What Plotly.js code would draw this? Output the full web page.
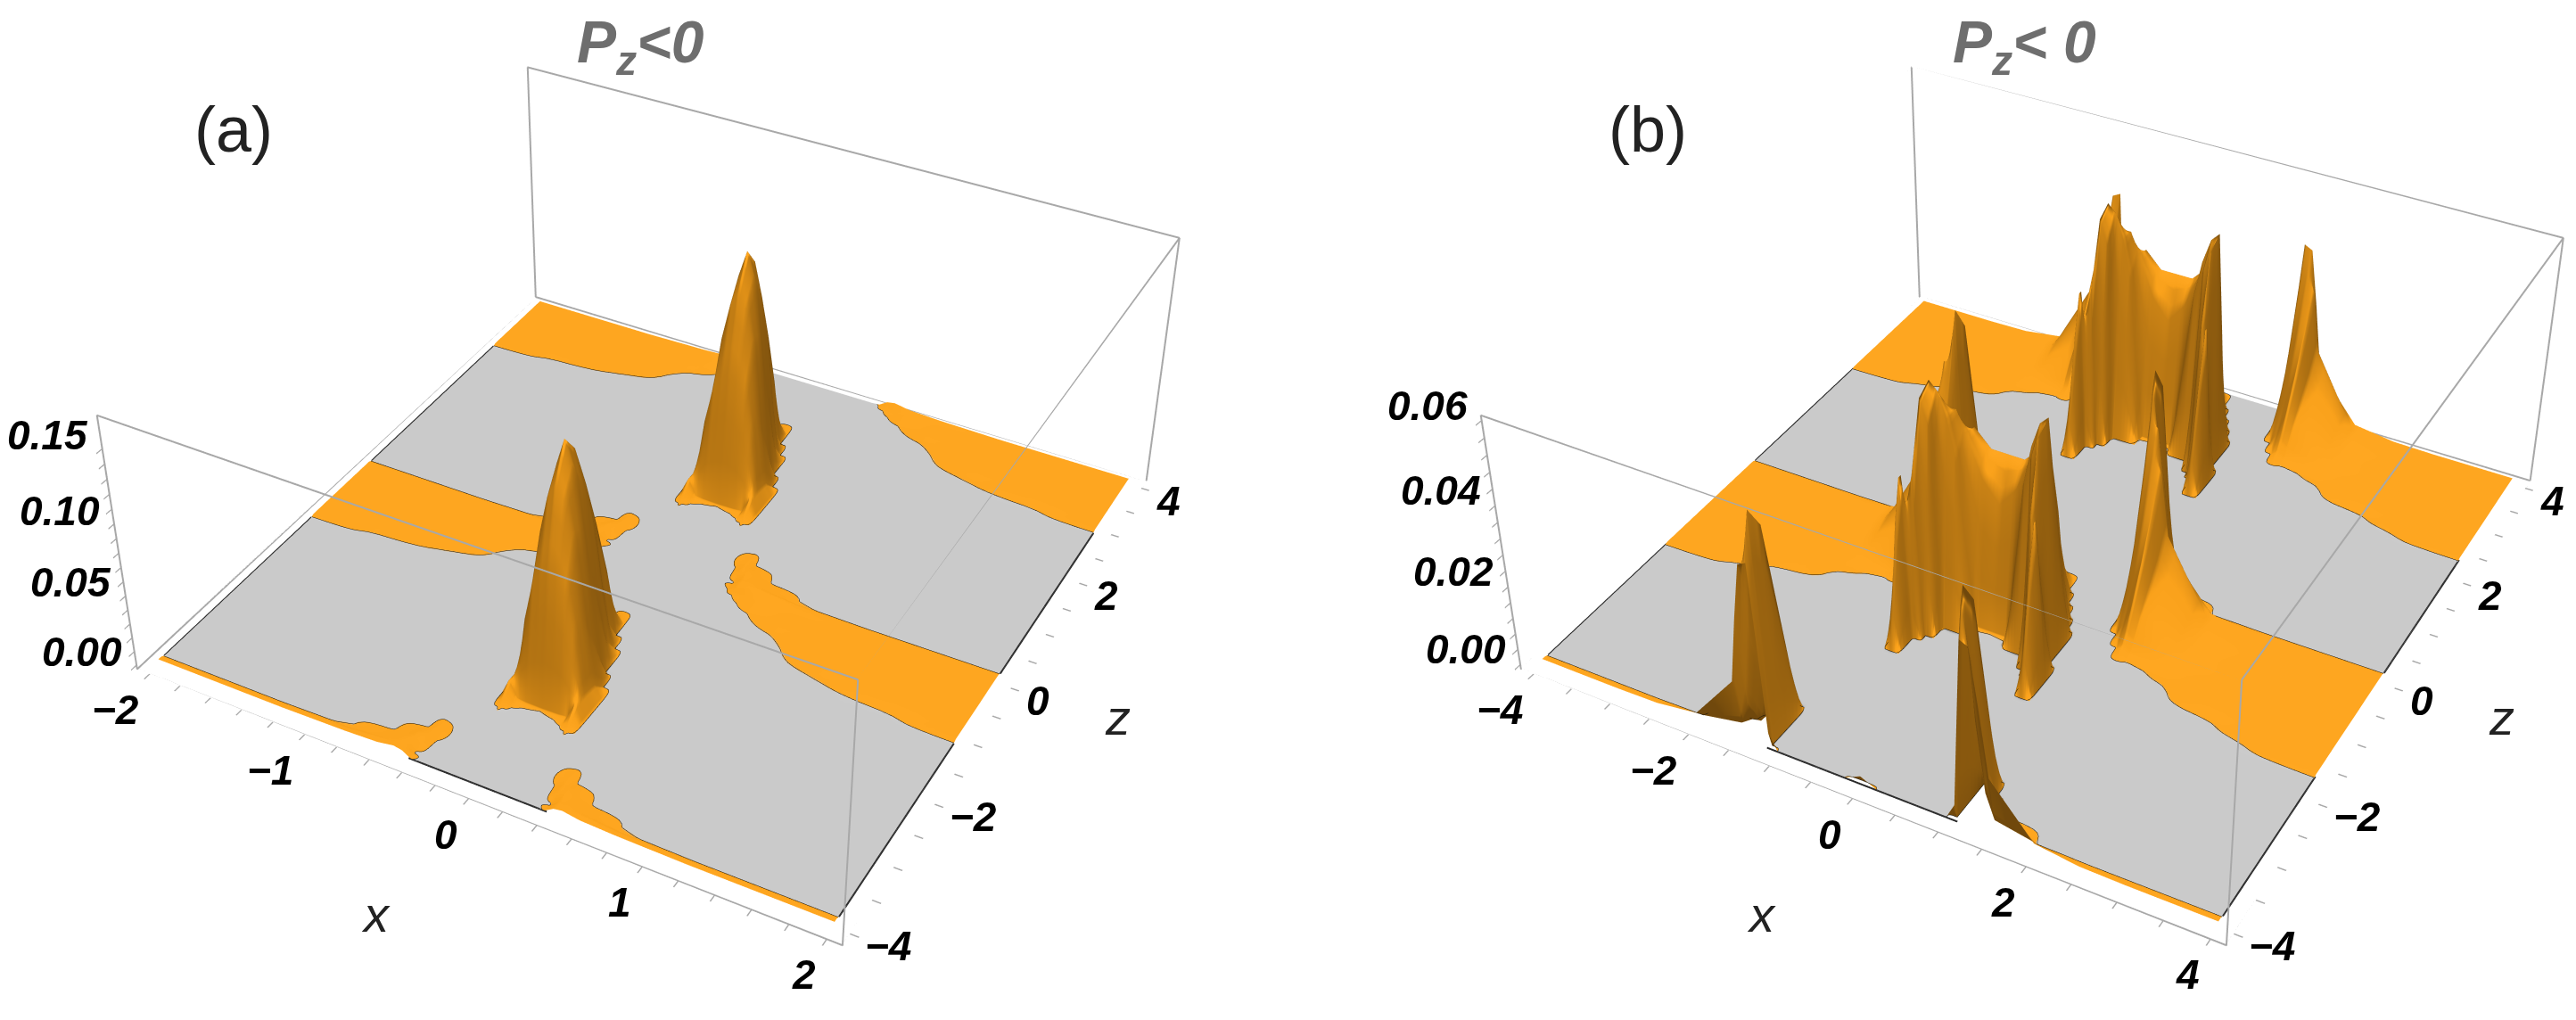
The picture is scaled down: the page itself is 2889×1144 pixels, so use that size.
<!DOCTYPE html>
<html><head><meta charset="utf-8">
<script src="https://cdn.plot.ly/plotly-3.0.1.min.js"></script>
<style>html,body{margin:0;padding:0;background:#fff;overflow:hidden;width:2889px;height:1144px}
#g{position:absolute;left:0;top:-703px;width:3044px;height:2417px}</style></head><body><div id="g"></div>
<script>
var xA=[-2,-1.6,-1.2,-.8,-.6,-.5,-.45,-.4,-.35,-.3,-.25,-.2,-.15,-.1,-.05,0,.05,.1,.15,.2,.25,.3,.35,.4,.45,.5,.6,.8,1.2,1.6,2];
var zA=[-4,-3.95,-3.9,-3.7,-3.5,-3.3,-3.1,-2.9,-2.7,-2.5,-2.3,-2.1,-1.9,-1.7,-1.5,-1.3,-1.2,-1.15,-1.1,-.9,-.7,-.5,-.3,-.1,0,.05,.1,.3,.5,.7,.9,1.1,1.3,1.5,1.7,1.9,2.1,2.3,2.5,2.7,2.8,2.85,2.9,3.1,3.3,3.5,3.7,3.9,4];
var blockA=[
[0,0,0,0,0,0,0,0,0,.004,.005,.003,.0004,0,0,0],
[0,0,0,0,0,0,0,0,.003,.004,.002,0,0,0,0,0],
[0,0,0,0,0,0,0,.001,.002,0,0,0,0,0,0,0],
[0,0,0,0,0,0,0,0,0,0,0,0,0,0,0,0],
[0,0,0,0,0,0,0,0,0,0,0,0,0,0,0,0],
[0,0,0,0,.0004,0,0,0,0,0,0,0,0,0,0,0],
[.0004,.0005,.0006,.0012,.012,0,0,0,0,0,0,0,0,0,0,0],
[.09,.085,.075,.05,.012,0,0,0,0,0,0,0,0,0,0,0],
[.14,.13,.105,.055,.01,0,0,0,0,0,0,0,0,0,0,0],
[.163,.145,.1,.03,0,0,0,0,0,0,0,0,0,0,0,0],
[.15,.125,.06,0,0,0,0,0,0,0,0,0,0,0,0,0],
[.12,.09,.015,0,0,0,0,0,0,0,0,0,0,0,0,0],
[.085,.02,0,0,0,0,0,0,0,0,0,0,0,0,0,0],
[.045,0,0,0,0,0,0,0,0,0,0,0,0,0,0,0],
[.02,0,0,0,0,0,0,0,0,0,0,0,0,0,0,0],
[.012,0,0,0,0,0,0,0,0,0,0,0,0,0,0,0],
[.006,0,0,0,0,0,0,0,0,0,0,0,0,0,0,.0012],
[0,0,0,0,0,0,0,0,0,0,0,0,0,.0004,.0012,.0012],
[0,0,0,0,0,0,0,0,0,0,0,0,0,.0012,.0012,.0012],
[0,0,0,0,0,0,0,0,0,0,0,0,.00035,.0012,.0012,.0012],
[0,0,0,0,0,0,0,0,0,0,0,.00033,.0012,.0012,.0012,.0012],
[0,0,0,0,0,0,0,0,0,.00033,.0006,.002,.0015,.0012,.0012,.0012],
[0,0,0,0,0,0,0,0,.00043,.004,.005,.003,.002,.0012,.0012,.0012],
[0,0,0,0,0,0,0,0,.001,.004,.005,.004,.002,.0012,.0012,.0012]];
var xB=[-4,-3,-2.5,-2,-1.5,-1.4,-1.3,-1.2,-1.1,-1,-.9,-.8,-.7,-.6,-.5,-.4,-.2,0,.2,.4,.5,.6,.7,.8,.9,1,1.1,1.2,1.3,1.4,1.5,2,2.5,3,4];
var zB=[-4,-3.95,-3.9,-3.7,-3.5,-3.3,-3.1,-2.9,-2.7,-2.5,-2.3,-2.1,-1.9,-1.8,-1.75,-1.7,-1.5,-1.3,-1.1,-.9,-.7,-.5,-.3,-.1,0,.05,.1,.3,.5,.7,.9,1.1,1.3,1.5,1.7,1.9,2.1,2.2,2.25,2.3,2.5,2.7,2.9,3.1,3.3,3.5,3.7,3.9,4];
var blockB=[
[0,0,0,0,0,0,0,0,0,0,.056,.025,.008,.002,0,0,0,0],
[0,0,0,0,0,0,0,0,0,0,.05,.012,.0003,0,0,0,0,0],
[0,0,0,0,0,0,0,0,0,0,.025,0,0,0,0,0,0,0],
[0,0,0,0,0,0,0,0,0,0,0,0,0,0,0,0,0,0],
[0,0,0,0,0,0,0,0,0,0,0,0,0,0,0,0,0,0],
[0,0,0,0,0,0,0,0,0,0,0,0,0,0,0,0,0,0],
[0,0,0,0,0,0,0,0,0,0,0,0,0,0,0,0,0,0],
[0,0,0,0,0,0,0,0,0,0,0,0,0,0,0,0,0,0],
[0,0,0,0,0,0,0,0,0,0,0,0,0,0,0,0,0,0],
[0,0,0,0,0,0,0,0,0,0,0,0,0,0,0,0,0,0],
[0,0,0,0,0,0,.03,0,0,0,0,0,0,0,0,0,0,0],
[0,0,0,0,0,.00015,.04,0,0,0,0,0,0,0,0,0,0,0],
[0,0,0,0,0,.02,.04,0,0,0,0,0,0,0,0,0,0,0],
[0,0,0,0,0,.04,.03,0,0,0,0,0,0,0,0,0,0,.0004],
[0,0,0,.00016,.05,.056,0,0,0,0,0,0,0,0,0,0,.00024,.0004],
[.00016,.0002,.04,.05,.056,.058,0,0,0,0,0,0,0,0,0,.0005,.0004,.0004],
[.03,.035,.045,.05,.05,.03,0,0,0,0,0,0,0,0,.00024,.0005,.0004,.0004],
[.04,.04,.044,.042,.03,0,0,0,0,0,0,0,.002,.0005,.0006,.0005,.0004,.0004],
[.036,.035,.032,.015,0,0,0,0,0,0,0,.004,.01,.006,.001,.0006,.0004,.0004],
[.028,.027,.018,0,0,0,0,0,0,0,.006,.012,.018,.01,.0015,.0006,.0004,.0004],
[.018,.015,0,0,0,0,0,0,0,0,.018,.025,.026,.014,.002,.0007,.0004,.0004],
[.008,.003,0,0,0,0,0,0,0,0,.035,.038,.035,.02,.002,.0007,.0004,.0004],
[.002,0,0,0,0,0,0,0,0,.004,.045,.044,.03,.014,.002,.0006,.0004,.0004],
[0,0,0,0,0,0,0,0,0,0,.052,.04,.02,.008,.001,.0004,.0004,.0004]];
var boxA={x:[-2.083,2.083],y:[-4.167,4.167],z:[-.003,.1716]};
var boxB={x:[-4.167,4.167],y:[-4.167,4.167],z:[-.0012,.0612]};
var xTickA=[-2,-1.8,-1.6,-1.4,-1.2,-1,-.8,-.6,-.4,-.2,0,.2,.4,.6,.8,1,1.2,1.4,1.6,1.8,2];
var xTextA=['\u22122','','','','','\u22121','','','','','0','','','','','1','','','','','2'];
var xTickB=[-4,-3.5,-3,-2.5,-2,-1.5,-1,-.5,0,.5,1,1.5,2,2.5,3,3.5,4];
var xTextB=['\u22124','','','','\u22122','','','','0','','','','2','','','','4'];
var vTickA=[0,.01,.02,.03,.04,.05,.06,.07,.08,.09,.1,.11,.12,.13,.14,.15];
var vTextA=['0.00','','','','','0.05','','','','','0.10','','','','','0.15'];
var vTickB=[0,.004,.008,.012,.016,.02,.024,.028,.032,.036,.04,.044,.048,.052,.056,.06];
var vTextB=['0.00','','','','','0.02','','','','','0.04','','','','','0.06'];
var zTick=[-4,-3.5,-3,-2.5,-2,-1.5,-1,-.5,0,.5,1,1.5,2,2.5,3,3.5,4];
var zText=['\u22124','','','','\u22122','','','','0','','','','2','','','','4'];
var grayEdgeA=[[-2,-2,-3.9,-1.14],[-2,-2,.1,2.86],[2,2,-3.9,-1.14],[2,2,.1,2.86],[-.41,.41,-4,-4]];
var grayEdgeB=[[-4,-4,-3.9,-1.71],[-4,-4,.1,2.29],[4,4,-3.9,-1.71],[4,4,.1,2.29],[-1.13,1.13,-4,-4]];
var W=3044,H=2417,T=703;
function grid(block){return block.slice(-2).concat(block,block.slice(0,-1)).map(function(h){return h.slice(1).reverse().concat(h);});}
function edges(b,scene){
 var X=[],Y=[],Z=[];
 var p=[[0,0,0],[1,0,0],[1,1,0],[0,1,0],[0,0,0],[0,0,1],[1,0,1],[1,1,1],[0,1,1],[0,0,1],null,[1,0,0],[1,0,1],null,[1,1,0],[1,1,1],null,[0,1,0],[0,1,1]];
 p.forEach(function(c){X.push(c?b.x[c[0]]:null);Y.push(c?b.y[c[1]]:null);Z.push(c?b.z[c[2]]:null);});
 return {type:'scatter3d',mode:'lines',x:X,y:Y,z:Z,scene:scene,line:{color:'#a8a8a8',width:4},hoverinfo:'none',showlegend:false};
}
function darkEdges(list,scene){
 var X=[],Y=[],Z=[];
 list.forEach(function(s){X.push(s[0],s[1],null);Y.push(s[2],s[3],null);Z.push(0,0,null);});
 return {type:'scatter3d',mode:'lines',x:X,y:Y,z:Z,scene:scene,line:{color:'#2a2a2a',width:4},hoverinfo:'none',showlegend:false};
}
var cs=[[0,'#c4c4c4'],[.45,'#c4c4c4'],[.55,'#f8a01a'],[1,'#f8a01a']];
var light={ambient:.45,diffuse:.8,specular:.03,roughness:.6,fresnel:.02};
var lightpos={x:-2000,y:-2500,z:2500};
function surf(x,y,z,scene,cmax){
 return {type:'surface',x:x,y:y,z:z,scene:scene,colorscale:cs,cmin:0,cmax:cmax,showscale:false,hoverinfo:'none',lighting:light,lightposition:lightpos,
  contours:{x:{show:false},y:{show:false},z:{show:true,start:cmax/2,end:cmax/2+cmax/10,size:cmax,color:'#151007',width:4}}};
}
function axis(b,tv){
 return {range:b,tickmode:'array',tickvals:tv,showticklabels:false,showgrid:false,zeroline:false,showline:false,showbackground:false,showspikes:false,
  ticks:'outside',ticklen:8,tickwidth:3,tickcolor:'#a8a8a8',title:{text:''}};
}
var tickFont={family:'Liberation Sans',size:46,color:'#000',weight:700,style:'italic'};
function labels(b,xt,xl,vt,vl,vr){
 var out=[];
 function add(x,y,z,t,xa,xs,ys){ if(t) out.push({x:x,y:y,z:z,text:t,showarrow:false,xanchor:xa,yanchor:'middle',xshift:xs,yshift:ys,font:tickFont}); }
 xt.forEach(function(v,i){add(v,b.y[0],b.z[0],xl[i],'right',-10,-40);});
 zTick.forEach(function(v,i){add(b.x[1],v,b.z[0],zText[i],'left',15,-14);});
 vt.forEach(function(v,i){add(b.x[0],b.y[0],v,vl[i],'right',-14,vr);});
 return out;
}
function scene(domL,domR,b,xt,xl,vt,vl,vr){
 return {domain:{x:[domL/W,domR/W],y:[0,1]},aspectmode:'manual',aspectratio:{x:1,y:1,z:.4},
  camera:{eye:{x:1.3,y:-2.4,z:2},center:{x:0,y:0,z:0},up:{x:0,y:0,z:1}},
  xaxis:axis(b.x,xt),yaxis:axis(b.y,zTick),zaxis:axis(b.z,vt),bgcolor:'rgba(0,0,0,0)',annotations:labels(b,xt,xl,vt,vl,vr)};
}
function note(t,px,py,size,color,style,weight){
 return {text:t,xref:'paper',yref:'paper',x:px/W,y:1-(py+T)/H,showarrow:false,xanchor:'center',yanchor:'middle',font:{family:'Liberation Sans',size:size,color:color,style:style,weight:weight}};
}
var notes=[note('(a)',262,145,72,'#222','normal',400),note('(b)',1848,145,72,'#222','normal',400),
 note('P<sub>z</sub>&lt;0',718,52,66,'#6e6e6e','italic',700),note('P<sub>z</sub>&lt; 0',2270,52,66,'#6e6e6e','italic',700),
 note('x',421,1025,56,'#222','italic',400),note('x',1975,1025,56,'#222','italic',400),
 note('z',1253,805,56,'#222','italic',400),note('z',2805,805,56,'#222','italic',400)];
var data=[surf(xA,zA,grid(blockA),'scene',.0006),edges(boxA,'scene'),darkEdges(grayEdgeA,'scene'),
 surf(xB,zB,grid(blockB),'scene2',.00024),edges(boxB,'scene2'),darkEdges(grayEdgeB,'scene2')];
var layout={width:W,height:H,margin:{l:0,r:0,t:0,b:0},paper_bgcolor:'#fff',showlegend:false,
 scene:scene(0,1492,boxA,xTickA,xTextA,vTickA,vTextA,15),scene2:scene(1552,3044,boxB,xTickB,xTextB,vTickB,vTextB,17),annotations:notes};
Plotly.newPlot('g',data,layout,{displayModeBar:false});
</script></body></html>
